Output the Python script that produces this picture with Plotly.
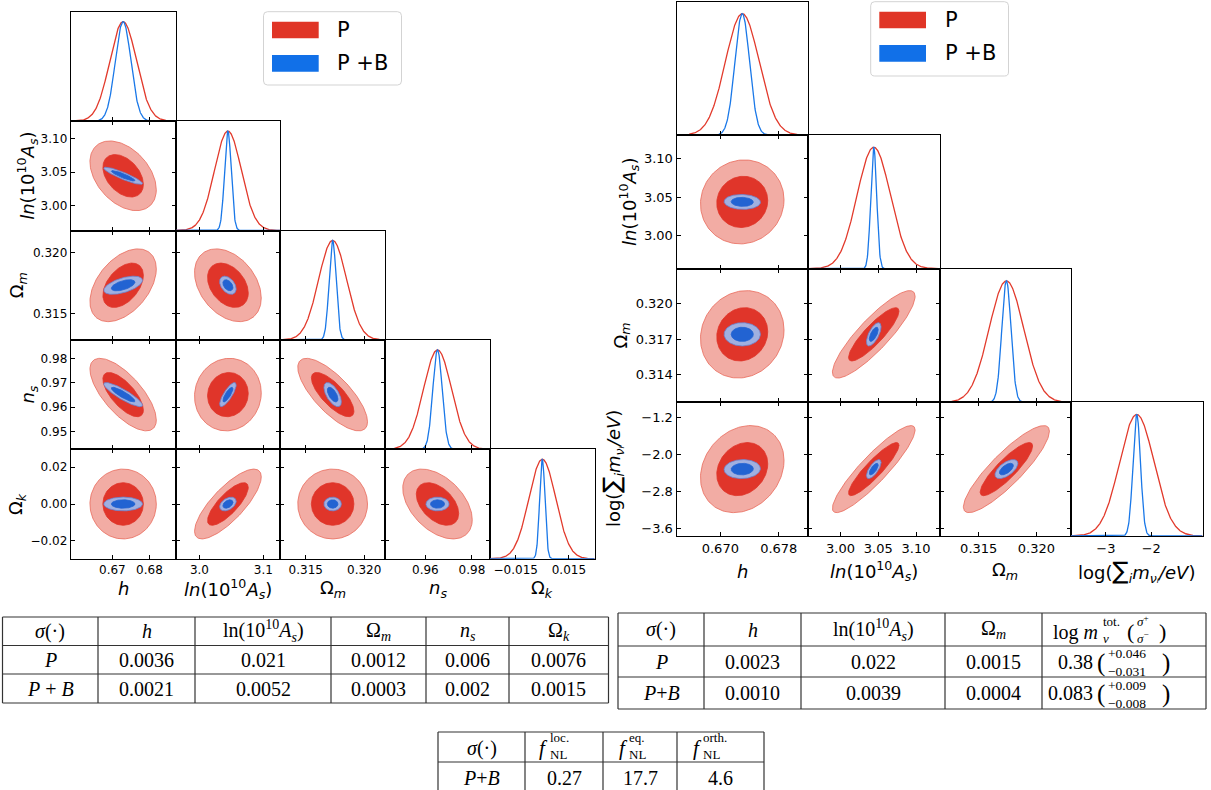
import numpy as np
import plotly.graph_objects as go

W, H = 1211, 790

# ======================= DATA =======================
# Left triangle (P vs P+B, with curvature)
left_mean = [0.6729, 3.0445, 0.3173, 0.9652, 0.0]
left_sigma_P = [0.0036, 0.021, 0.0012, 0.006, 0.0076]
left_sigma_PB = [0.0021, 0.0052, 0.0003, 0.002, 0.0015]
left_pairs = [(0, 1), (0, 2), (1, 2), (0, 3), (1, 3), (2, 3), (0, 4), (1, 4), (2, 4), (3, 4)]
left_rho_P = [-0.40, 0.45, -0.35, -0.70, 0.05, -0.75, 0.0, 0.78, 0.0, -0.45]
left_rho_PB = [-0.90, 0.55, -0.40, -0.88, 0.80, -0.60, 0.0, 0.40, 0.0, 0.0]
left_xticks = [[0.67, 0.68], [3.0, 3.1], [0.315, 0.320], [0.96, 0.98], [-0.015, 0.015]]
left_yticks = [[], [3.00, 3.05, 3.10], [0.315, 0.320], [0.95, 0.96, 0.97, 0.98], [-0.02, 0.0, 0.02]]
left_labels = ["<i>h</i>", "<i>ln</i>(10<sup>10</sup><i>A<sub>s</sub></i>)", "Ω<sub><i>m</i></sub>",
               "<i>n<sub>s</sub></i>", "Ω<sub><i>k</i></sub>"]

# Right triangle (P vs P+B, with neutrino mass)
right_mean = [0.673, 3.044, 0.3174, -2.32]
right_sigma_P = [0.0023, 0.022, 0.0015, 0.38]
right_sigma_PB = [0.0010, 0.0039, 0.0004, 0.083]
right_pairs = [(0, 1), (0, 2), (1, 2), (0, 3), (1, 3), (2, 3)]
right_rho_P = [0.05, 0.10, 0.87, 0.20, 0.90, 0.87]
right_rho_PB = [-0.05, 0.0, 0.65, 0.05, 0.70, 0.60]
right_xticks = [[0.670, 0.678], [3.00, 3.05, 3.10], [0.315, 0.320], [-3, -2]]
right_yticks = [[], [3.00, 3.05, 3.10], [0.314, 0.317, 0.320], [-3.6, -2.8, -2.0, -1.2]]
right_labels = ["<i>h</i>", "<i>ln</i>(10<sup>10</sup><i>A<sub>s</sub></i>)", "Ω<sub><i>m</i></sub>",
                "log(<span style='font-size:24px'>∑</span><sub><i>i</i></sub><i>m<sub>νᵢ</sub>/eV</i>)"]

legend_names = ["P", "P +B"]

# Tables
tab1_header = ["<i>σ</i>(·)", "<i>h</i>", "ln(10<sup>10</sup><i>A<sub>s</sub></i>)", "Ω<sub><i>m</i></sub>",
               "<i>n<sub>s</sub></i>", "Ω<sub><i>k</i></sub>"]
tab1_rows = ["<i>P</i>", "<i>P</i> + <i>B</i>"]
tab1_P = ["0.0036", "0.021", "0.0012", "0.006", "0.0076"]
tab1_PB = ["0.0021", "0.0052", "0.0003", "0.002", "0.0015"]

tab2_header = ["<i>σ</i>(·)", "<i>h</i>", "ln(10<sup>10</sup><i>A<sub>s</sub></i>)", "Ω<sub><i>m</i></sub>"]
tab2_rows = ["<i>P</i>", "<i>P</i>+<i>B</i>"]
tab2_P = ["0.0023", "0.022", "0.0015"]
tab2_PB = ["0.0010", "0.0039", "0.0004"]
tab2_mnu_P = ["0.38", "+0.046", "−0.031"]
tab2_mnu_PB = ["0.083", "+0.009", "−0.008"]

tab3_header_sup = ["loc.", "eq.", "orth."]
tab3_row = "<i>P</i>+<i>B</i>"
tab3_vals = ["0.27", "17.7", "4.6"]

# ======================= STYLE =======================
C_P_OUT, C_P_OUT_EDGE, C_P_IN = "#f2aca4", "#e9695b", "#e0352a"
C_B_OUT, C_B_OUT_EDGE, C_B_IN = "#a0b0e0", "#6a84d0", "#2263d2"
C_P_LINE, C_B_LINE = "#e23a2c", "#1a78e8"
C_LEG_P, C_LEG_B = "#e03526", "#1170e8"
K68, K95 = np.sqrt(2.30), np.sqrt(6.18)

left_range = [[0.65876, 0.68703], [2.9625, 3.1265], [0.31282, 0.32179], [0.9427, 0.9877], [-0.0296, 0.0296]]
right_range = [[0.664, 0.682], [2.957, 3.131], [0.3116, 0.3230], [-3.77, -0.87]]
left_xfmt = [".2f", ".1f", ".3f", ".2f", ".3f"]
left_yfmt = ["", ".2f", ".3f", ".2f", ".2f"]
right_xfmt = [".3f", ".2f", ".3f", ".0f"]
right_yfmt = ["", ".2f", ".3f", ".1f"]

traces, annotations, shapes = [], [], []
layout_axes = {}
axn = [0]


def new_axes(x0, x1, y0, y1, xopts, yopts):
    axn[0] += 1
    n = axn[0]
    sfx = "" if n == 1 else str(n)
    xid, yid = "x" + sfx, "y" + sfx
    layout_axes["xaxis" + sfx] = dict(xopts, domain=[x0 / W, x1 / W], anchor=yid)
    layout_axes["yaxis" + sfx] = dict(yopts, domain=[1 - y1 / H, 1 - y0 / H], anchor=xid)
    return xid, yid


def base_axis(fs):
    return dict(showline=True, linecolor="black", linewidth=1, mirror="allticks",
                ticks="inside", ticklen=4, tickwidth=1, tickcolor="black",
                showgrid=False, zeroline=False, fixedrange=True,
                tickfont=dict(family="DejaVu Sans", size=fs, color="black"))


def ellipse(mx, my, sx, sy, rho, k, npts=160):
    t = np.linspace(0, 2 * np.pi, npts)
    cov = np.array([[sx * sx, rho * sx * sy], [rho * sx * sy, sy * sy]])
    L = np.linalg.cholesky(cov)
    pts = k * (L @ np.vstack([np.cos(t), np.sin(t)]))
    return mx + pts[0], my + pts[1]


def text(x, y, s, size, family="DejaVu Sans", anchor="center", angle=0, align="center"):
    annotations.append(dict(x=x / W, y=1 - y / H, xref="paper", yref="paper", text=s, showarrow=False,
                            font=dict(family=family, size=size, color="black"), align=align,
                            xanchor=anchor, yanchor="middle", textangle=angle))


def triangle(mean, sP, sPB, pairs, rhoP, rhoPB, rng, xt, xf, yt, yf, x0, cw, y0, rh, fs):
    n = len(mean)
    for r in range(n):
        for c in range(r + 1):
            px0, px1 = x0 + c * cw, x0 + (c + 1) * cw
            py0, py1 = y0 + r * rh, y0 + (r + 1) * rh
            xo = base_axis(fs)
            xo.update(range=rng[c], tickvals=xt[c], tickformat=xf[c], showticklabels=(r == n - 1))
            yo = base_axis(fs)
            if r == c:
                xo["mirror"] = True
                yo.update(range=[0, 1.1], ticks="", showticklabels=False, mirror=True)
                xid, yid = new_axes(px0, px1, py0, py1, xo, yo)
                xs = np.linspace(rng[c][0], rng[c][1], 400)
                for s, col in ((sP[c], C_P_LINE), (sPB[c], C_B_LINE)):
                    traces.append(go.Scatter(x=xs, y=np.exp(-0.5 * ((xs - mean[c]) / s) ** 2), mode="lines",
                                             line=dict(color=col, width=1.3), xaxis=xid, yaxis=yid,
                                             hoverinfo="skip"))
            else:
                yo.update(range=rng[r], tickvals=yt[r], tickformat=yf[r], showticklabels=(c == 0))
                xid, yid = new_axes(px0, px1, py0, py1, xo, yo)
                k = pairs.index((c, r))
                specs = [(sP, rhoP[k], K95, C_P_OUT, C_P_OUT_EDGE), (sP, rhoP[k], K68, C_P_IN, C_P_IN),
                         (sPB, rhoPB[k], K95, C_B_OUT, C_B_OUT_EDGE), (sPB, rhoPB[k], K68, C_B_IN, C_B_IN)]
                for s, rho, kk, fill, edge in specs:
                    ex, ey = ellipse(mean[c], mean[r], s[c], s[r], rho, kk)
                    traces.append(go.Scatter(x=ex, y=ey, mode="lines", fill="toself", fillcolor=fill,
                                             line=dict(color=edge, width=0.8), xaxis=xid, yaxis=yid,
                                             hoverinfo="skip"))


# ---- left triangle
LX0, LCW, LY0, LRH = 70.7, 104.8, 11.7, 109.4
triangle(left_mean, left_sigma_P, left_sigma_PB, left_pairs, left_rho_P, left_rho_PB, left_range,
         left_xticks, left_xfmt, left_yticks, left_yfmt, LX0, LCW, LY0, LRH, 12)
for i, lab in enumerate(left_labels):
    text(LX0 + (i + 0.5) * LCW, 588.5, lab, 18)
left_ylab_x = [0, 27, 18, 29, 17]
for i in range(1, 5):
    text(left_ylab_x[i], LY0 + (i + 0.5) * LRH, left_labels[i], 18, angle=-90)

# ---- right triangle
RX0, RCW, RY0, RRH = 676.5, 131.5, 1.5, 133.6
triangle(right_mean, right_sigma_P, right_sigma_PB, right_pairs, right_rho_P, right_rho_PB, right_range,
         right_xticks, right_xfmt, right_yticks, right_yfmt, RX0, RCW, RY0, RRH, 13)
for i, lab in enumerate(right_labels):
    text(RX0 + (i + 0.5) * RCW, 571, lab, 18)
right_ylab_x = [0, 629, 621, 612]
for i in range(1, 4):
    text(right_ylab_x[i], RY0 + (i + 0.5) * RRH, right_labels[i], 18, angle=-90)


# ---- legends
def rounded_rect(x0, y0, x1, y1, r):
    def P(x, y):
        return f"{x / W:.6f},{1 - y / H:.6f}"
    return (f"M {P(x0 + r, y0)} L {P(x1 - r, y0)} Q {P(x1, y0)} {P(x1, y0 + r)} L {P(x1, y1 - r)} "
            f"Q {P(x1, y1)} {P(x1 - r, y1)} L {P(x0 + r, y1)} Q {P(x0, y1)} {P(x0, y1 - r)} "
            f"L {P(x0, y0 + r)} Q {P(x0, y0)} {P(x0 + r, y0)} Z")


def legend(bx0, by0, bx1, by1, patch_x0, patch_x1, rows_y, text_x):
    shapes.append(dict(type="path", xref="paper", yref="paper", path=rounded_rect(bx0, by0, bx1, by1, 4),
                       line=dict(color="#d3d3d3", width=1), fillcolor="rgba(255,255,255,0.85)"))
    for (ya, yb), col, name in zip(rows_y, (C_LEG_P, C_LEG_B), legend_names):
        shapes.append(dict(type="rect", xref="paper", yref="paper", x0=patch_x0 / W, x1=patch_x1 / W,
                           y0=1 - yb / H, y1=1 - ya / H, fillcolor=col, line=dict(width=0)))
        text(text_x, (ya + yb) / 2, name, 21, anchor="left")


legend(263.5, 11.7, 401.5, 85, 272, 318.7, [(21.7, 38.3), (55, 71.7)], 335)
legend(870.7, 1.7, 1008.5, 76, 879.3, 926, [(11.7, 28.3), (45, 61.7)], 943)


# ---- tables
def hline(x0, x1, y, w=1.2):
    shapes.append(dict(type="line", xref="paper", yref="paper", x0=x0 / W, x1=x1 / W,
                       y0=1 - y / H, y1=1 - y / H, line=dict(color="#333333", width=w)))


def vline(x, y0, y1, w=1.2):
    shapes.append(dict(type="line", xref="paper", yref="paper", x0=x / W, x1=x / W,
                       y0=1 - y0 / H, y1=1 - y1 / H, line=dict(color="#333333", width=w)))


SERIF = "Liberation Serif"
TFS = 20

# table 1
t1c = [2.5, 98, 195, 331, 426, 509, 608.5]
t1r = [617, 645.5, 674, 703]
for y in t1r:
    hline(t1c[0], t1c[-1], y)
for x in t1c:
    vline(x, t1r[0], t1r[-1])
cc1 = [(t1c[i] + t1c[i + 1]) / 2 for i in range(6)]
rc1 = [(t1r[i] + t1r[i + 1]) / 2 for i in range(3)]
for i, h in enumerate(tab1_header):
    text(cc1[i], rc1[0], h, TFS, SERIF)
text(cc1[0], rc1[1], tab1_rows[0], TFS, SERIF)
text(cc1[0], rc1[2], tab1_rows[1], TFS, SERIF)
for i in range(5):
    text(cc1[i + 1], rc1[1], tab1_P[i], TFS, SERIF)
    text(cc1[i + 1], rc1[2], tab1_PB[i], TFS, SERIF)

# table 2
t2c = [618, 704, 801, 945, 1042, 1206]
t2r = [613, 646, 677, 709]
for y in t2r:
    hline(t2c[0], t2c[-1], y)
for x in t2c:
    vline(x, t2r[0], t2r[-1])
cc2 = [(t2c[i] + t2c[i + 1]) / 2 for i in range(5)]
rc2 = [(t2r[i] + t2r[i + 1]) / 2 for i in range(3)]
for i, h in enumerate(tab2_header):
    text(cc2[i], rc2[0], h, TFS, SERIF)
text(cc2[0], rc2[1], tab2_rows[0], TFS, SERIF)
text(cc2[0], rc2[2], tab2_rows[1], TFS, SERIF)
for i in range(3):
    text(cc2[i + 1], rc2[1], tab2_P[i], TFS, SERIF)
    text(cc2[i + 1], rc2[2], tab2_PB[i], TFS, SERIF)
# header of last column: log m_nu^tot (sigma+ / sigma-)
text(1100, 632, "log <i>m</i>", TFS, SERIF, anchor="right")
text(1101, 630, "tot.<br><i>ν</i>", 13, SERIF, anchor="left", align="left")
text(1130, 631, "(", 22, SERIF)
text(1135, 629, "<i>σ</i><sup>+</sup><br><i>σ</i><sup>−</sup>", 13, SERIF, anchor="left", align="left")
text(1162, 631, ")", 22, SERIF)
for (val, up, dn), yc in ((tab2_mnu_P, rc2[1]), (tab2_mnu_PB, rc2[2])):
    text(1095, yc, val, TFS, SERIF, anchor="right")
    text(1101, yc + 1, "(", 25, SERIF)
    text(1106, yc + 1, up + "<br>" + dn, 13.5, SERIF, anchor="left", align="left")
    text(1160, yc + 1, ")", 25, SERIF, anchor="left")

# table 3
t3c = [438, 525, 603, 677, 764]
t3r = [732, 762]
for y in t3r:
    hline(t3c[0], t3c[-1], y)
for x in t3c:
    vline(x, t3r[0], 792)
cc3 = [(t3c[i] + t3c[i + 1]) / 2 for i in range(4)]
text(cc3[0], 748, "<i>σ</i>(·)", TFS, SERIF)
f_x = [543.5, 623, 697]
for i, sup in enumerate(tab3_header_sup):
    text(f_x[i], 748, "<i>f</i>", 21, SERIF)
    text(f_x[i] + 4, 746, sup + "<br>NL", 13, SERIF, anchor="left", align="left")
text(cc3[0], 778, tab3_row, TFS, SERIF)
for i, v in enumerate(tab3_vals):
    text(cc3[i + 1], 778, v, TFS, SERIF)

fig = go.Figure(data=traces)
fig.update_layout(width=W, height=H, margin=dict(l=0, r=0, t=0, b=0), paper_bgcolor="white",
                  plot_bgcolor="rgba(0,0,0,0)", showlegend=False, annotations=annotations, shapes=shapes,
                  **layout_axes)
fig.write_html("out.html", post_script="document.body.style.margin='0px';",
               config={"displayModeBar": False})
